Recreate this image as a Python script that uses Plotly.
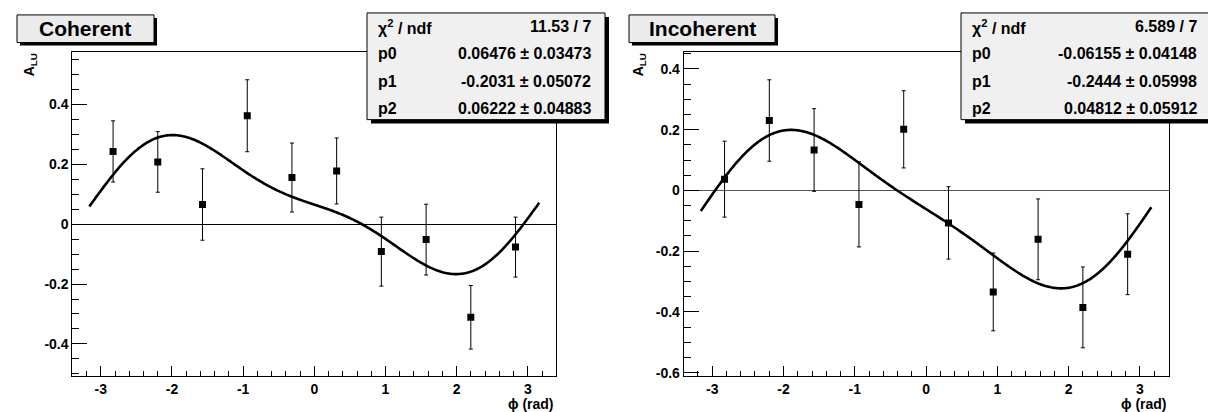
import numpy as np
import plotly.graph_objects as go

W, H = 1216, 412

# ---------------- data ----------------
phi_bins = [-2.827, -2.199, -1.571, -0.942, -0.314, 0.314, 0.942, 1.571, 2.199, 2.827]

coh_y = [0.242, 0.207, 0.065, 0.361, 0.155, 0.177, -0.092, -0.052, -0.311, -0.077]
coh_err = [0.102, 0.101, 0.119, 0.120, 0.115, 0.110, 0.115, 0.118, 0.106, 0.100]

inc_y = [0.037, 0.230, 0.133, -0.046, 0.201, -0.107, -0.334, -0.161, -0.385, -0.210]
inc_err = [0.125, 0.134, 0.136, 0.140, 0.127, 0.119, 0.128, 0.133, 0.133, 0.133]

# fit parameters shown in the stats boxes (p0 + p1 sin(phi) + p2 sin(2 phi))
coh_par = [0.06476, -0.2031, 0.06222]
inc_par = [-0.06155, -0.2444, 0.04812]
coh_stats = [("χ<sup>2</sup> / ndf", "11.53 / 7"), ("p0", "0.06476 ± 0.03473"),
             ("p1", "-0.2031 ± 0.05072"), ("p2", "0.06222 ± 0.04883")]
inc_stats = [("χ<sup>2</sup> / ndf", "6.589 / 7"), ("p0", "-0.06155 ± 0.04148"),
             ("p1", "-0.2444 ± 0.05998"), ("p2", "0.04812 ± 0.05912")]

x_ticks = [-3, -2, -1, 0, 1, 2, 3]
coh_yticks = [-0.4, -0.2, 0, 0.2, 0.4]
inc_yticks = [-0.6, -0.4, -0.2, 0, 0.2, 0.4]

fit_range = 3.16
xfit = np.linspace(-fit_range, fit_range, 400)


def fitfun(p, x):
    return p[0] + p[1] * np.sin(x) + p[2] * np.sin(2 * x)


def fmt(v):
    return "0" if abs(v) < 1e-9 else ("%g" % v)


FONT = "Liberation Sans, Arial, Helvetica, sans-serif"

fig = go.Figure()

panels = [
    dict(xa="x", ya="y", y=coh_y, e=coh_err, par=coh_par, stats=coh_stats,
         yticks=coh_yticks, yr=[-0.506, 0.572], xd=[64.3, 548.3], zc="black",
         title="Coherent", tb=[9, 146], sb=[359, 597], ylab=22),
    dict(xa="x2", ya="y2", y=inc_y, e=inc_err, par=inc_par, stats=inc_stats,
         yticks=inc_yticks, yr=[-0.61, 0.454], xd=[675.7, 1160.5], zc="#555555",
         title="Incoherent", tb=[621, 767], sb=[953, 1203], ylab=631),
]

ytop, ybot = 45, 372.3
shapes, annotations = [], []


def px(x):
    return x / W


def py(y):
    return 1 - y / H


for i, p in enumerate(panels):
    fig.add_trace(go.Scatter(
        x=xfit, y=fitfun(p["par"], xfit), mode="lines",
        line=dict(color="black", width=2.6, simplify=False), xaxis=p["xa"], yaxis=p["ya"],
        showlegend=False, hoverinfo="skip"))
    fig.add_trace(go.Scatter(
        x=phi_bins, y=p["y"], mode="markers",
        marker=dict(symbol="square", size=7, color="black"),
        error_y=dict(type="data", array=p["e"], visible=True, color="black",
                     thickness=1, width=2),
        xaxis=p["xa"], yaxis=p["ya"], showlegend=False))

    sfx = "" if i == 0 else "2"
    fig.update_layout(**{
        "xaxis" + sfx: dict(
            domain=[px(p["xd"][0]), px(p["xd"][1])], range=[-3.40, 3.40],
            tickmode="array", tickvals=x_ticks, ticktext=[fmt(v) for v in x_ticks],
            ticks="inside", ticklen=10, tickwidth=1, tickcolor="black",
            minor=dict(dtick=0.2, tick0=0, ticks="inside", ticklen=5,
                       tickwidth=1, tickcolor="black"),
            showline=True, linecolor="black", linewidth=1, mirror=True,
            showgrid=False, zeroline=False, anchor="y" + sfx,
            tickfont=dict(family=FONT, size=14, color="black", weight="bold")),
        "yaxis" + sfx: dict(
            domain=[py(ybot), py(ytop)], range=p["yr"],
            tickmode="array", tickvals=p["yticks"],
            ticktext=[fmt(v) for v in p["yticks"]],
            ticks="inside", ticklen=15, tickwidth=1, tickcolor="black",
            minor=dict(dtick=0.05, tick0=0, ticks="inside", ticklen=7,
                       tickwidth=1, tickcolor="black"),
            showline=True, linecolor="black", linewidth=1, mirror=True,
            showgrid=False, zeroline=True, zerolinecolor=p["zc"],
            zerolinewidth=1, anchor="x" + sfx,
            tickfont=dict(family=FONT, size=14, color="black", weight="bold")),
    })

    # title box with shadow
    tx0, tx1 = p["tb"]
    shapes.append(dict(type="rect", xref="paper", yref="paper",
                       x0=px(tx0 + 3), x1=px(tx1 + 3), y0=py(35 + 3), y1=py(7 + 3),
                       fillcolor="black", line=dict(width=0), layer="above"))
    shapes.append(dict(type="rect", xref="paper", yref="paper",
                       x0=px(tx0), x1=px(tx1), y0=py(35), y1=py(7),
                       fillcolor="#ebebeb", line=dict(color="black", width=1), layer="above"))
    annotations.append(dict(xref="paper", yref="paper", x=px((tx0 + tx1) / 2), y=py(21),
                            text="<b>%s</b>" % p["title"], showarrow=False,
                            xanchor="center", yanchor="middle",
                            font=dict(family=FONT, size=21, color="black")))

    # stats box with shadow
    sx0, sx1 = p["sb"]
    shapes.append(dict(type="rect", xref="paper", yref="paper",
                       x0=px(sx0 + 4), x1=px(sx1 + 4), y0=py(113 + 4), y1=py(5 + 4),
                       fillcolor="black", line=dict(width=0), layer="above"))
    shapes.append(dict(type="rect", xref="paper", yref="paper",
                       x0=px(sx0), x1=px(sx1), y0=py(113), y1=py(5),
                       fillcolor="#f0f0f0", line=dict(color="black", width=1), layer="above"))
    for r, (lab, val) in enumerate(p["stats"]):
        yc = 19 + r * 27.5
        annotations.append(dict(xref="paper", yref="paper", x=px(sx0 + 9), y=py(yc),
                                text="<b>%s</b>" % lab, showarrow=False,
                                xanchor="left", yanchor="middle",
                                font=dict(family=FONT, size=16, color="black")))
        annotations.append(dict(xref="paper", yref="paper", x=px(sx1 - 12), y=py(yc),
                                text="<b>%s</b>" % val, showarrow=False,
                                xanchor="right", yanchor="middle",
                                font=dict(family=FONT, size=16, color="black")))

    # axis titles
    annotations.append(dict(xref="paper", yref="paper", x=px(p["ylab"]), y=py(58),
                            text="<b>A<sub>LU</sub></b>", showarrow=False, textangle=-90,
                            xanchor="center", yanchor="middle",
                            font=dict(family=FONT, size=14, color="black")))
    annotations.append(dict(xref="paper", yref="paper", x=px(p["xd"][1]), y=py(401),
                            text="<b>ϕ (rad)</b>", showarrow=False,
                            xanchor="right", yanchor="middle",
                            font=dict(family=FONT, size=14, color="black")))

fig.update_layout(width=W, height=H, margin=dict(l=0, r=0, t=0, b=0),
                  paper_bgcolor="white", plot_bgcolor="white",
                  shapes=shapes, annotations=annotations)

fig.write_html("out.html")
